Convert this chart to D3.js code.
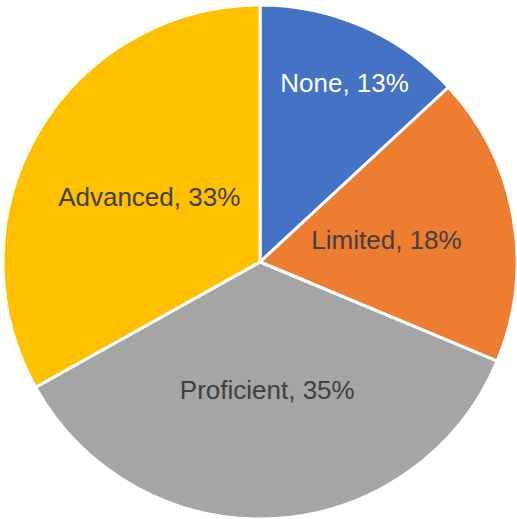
<!DOCTYPE html>
<html lang="en">
<head>
    <meta charset="UTF-8">
    <title>Proficiency Pie Chart</title>
    <script src="https://d3js.org/d3.v7.min.js"></script>
    <style>
        body { margin: 0; background: #fff; }
        svg { display: block; }
        .label { font-family: "Liberation Sans", Arial, sans-serif; font-size: 26px; }
    </style>
</head>
<body>
<svg width="517" height="519"></svg>
<script>
// data (start at 12 o'clock, clockwise)
const categories = ["None", "Limited", "Proficient", "Advanced"];
const values = [13.1, 18.2, 35.6, 33.1];
const percentLabels = ["13%", "18%", "35%", "33%"];

const colors = ["#4472C4", "#ED7D31", "#A5A5A5", "#FFC000"];
const textColors = ["#ffffff", "#404040", "#404040", "#404040"];
// label distance from centre as a fraction of radius (None is pushed out)
const labelRadius = [0.77, 0.5, 0.5, 0.5];

const width = 517, height = 519;
const cx = 260, cy = 262, radius = 257;

const svg = d3.select("svg")
    .attr("width", width)
    .attr("height", height)
    .append("g")
    .attr("transform", `translate(${cx},${cy})`);

const data = categories.map((c, i) => ({ name: c, value: values[i], pct: percentLabels[i], i: i }));

const pie = d3.pie().sort(null).value(d => d.value);
const arc = d3.arc().innerRadius(0).outerRadius(radius);
const arcs = pie(data);

svg.selectAll("path")
    .data(arcs)
    .enter()
    .append("path")
    .attr("d", arc)
    .attr("fill", d => colors[d.data.i])
    .attr("stroke", "#fff")
    .attr("stroke-width", 3)
    .attr("stroke-linejoin", "round");

svg.selectAll("text")
    .data(arcs)
    .enter()
    .append("text")
    .attr("class", "label")
    .attr("transform", d => {
        const r = radius * labelRadius[d.data.i];
        const a = (d.startAngle + d.endAngle) / 2 + (d.data.i === 0 ? 0.03 : 0);
        return `translate(${r * Math.sin(a)},${-r * Math.cos(a)})`;
    })
    .attr("text-anchor", "middle")
    .attr("dy", "0.35em")
    .attr("fill", d => textColors[d.data.i])
    .text(d => `${d.data.name}, ${d.data.pct}`);
</script>
</body>
</html>
